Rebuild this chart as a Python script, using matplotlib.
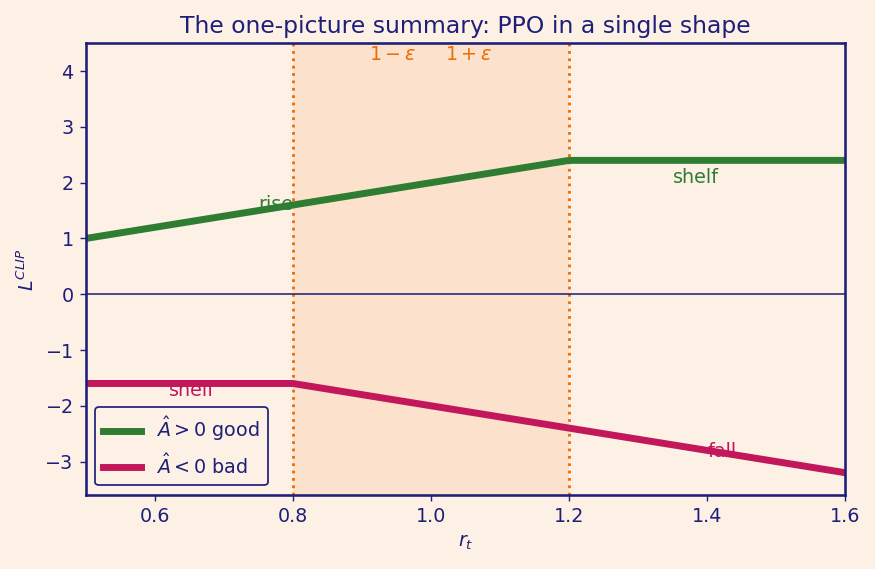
import matplotlib
matplotlib.use("Agg")
import matplotlib.pyplot as plt

# ratio r_t and clipped objective for the two advantage signs
r_good = [0.5, 0.8, 1.2, 1.6]
l_good = [1.0, 1.6, 2.4, 2.4]
r_bad = [0.5, 0.8, 1.2, 1.6]
l_bad = [-1.6, -1.6, -2.4, -3.2]
clip_lo, clip_hi = 0.8, 1.2

BG = "#fdf1e6"
NAVY = "#1f1f7a"
GREEN = "#2e7d32"
RED = "#c2185b"
ORANGE = "#ef6c00"

plt.rcParams.update({
    "text.color": NAVY,
    "axes.labelcolor": NAVY,
    "xtick.color": NAVY,
    "ytick.color": NAVY,
    "axes.edgecolor": NAVY,
})

fig, ax = plt.subplots(figsize=(7, 4.552), dpi=125)
fig.patch.set_facecolor(BG)
ax.set_facecolor(BG)

# clip region
ax.axvspan(clip_lo, clip_hi, color="#fcd9bb", alpha=0.6, lw=0)
ax.axvline(clip_lo, color=ORANGE, ls=":", lw=1.6)
ax.axvline(clip_hi, color=ORANGE, ls=":", lw=1.6)
ax.axhline(0, color=NAVY, lw=0.9)

ax.plot(r_good, l_good, color=GREEN, lw=4, label=r"$\hat{A}>0$ good")
ax.plot(r_bad, l_bad, color=RED, lw=4, label=r"$\hat{A}<0$ bad")

ax.text(0.945, 4.3, r"$1-\epsilon$", color=ORANGE, ha="center", va="center", fontsize=11)
ax.text(1.055, 4.3, r"$1+\epsilon$", color=ORANGE, ha="center", va="center", fontsize=11)
ax.text(0.75, 1.6, "rise", color=GREEN, va="center", fontsize=11)
ax.text(1.35, 2.1, "shelf", color=GREEN, va="center", fontsize=11)
ax.text(0.62, -1.72, "shelf", color=RED, va="center", fontsize=11)
ax.text(1.40, -2.82, "fall", color=RED, va="center", fontsize=11)

ax.set_xlim(0.5, 1.6)
ax.set_ylim(-3.6, 4.5)
ax.set_xticks([0.6, 0.8, 1.0, 1.2, 1.4, 1.6])
ax.set_xlabel(r"$r_t$", fontsize=11)
ax.set_ylabel(r"$L^{CLIP}$", fontsize=11)
ax.set_title("The one-picture summary: PPO in a single shape", fontsize=13.5, color=NAVY)
ax.tick_params(labelsize=11)
for s in ax.spines.values():
    s.set_linewidth(1.5)

leg = ax.legend(loc="lower left", fontsize=11, facecolor=BG, edgecolor=NAVY, framealpha=1)
leg.get_frame().set_linewidth(1.0)

fig.subplots_adjust(left=0.098, right=0.966, top=0.924, bottom=0.13)
fig.savefig("out.png", dpi=125, facecolor=BG)
